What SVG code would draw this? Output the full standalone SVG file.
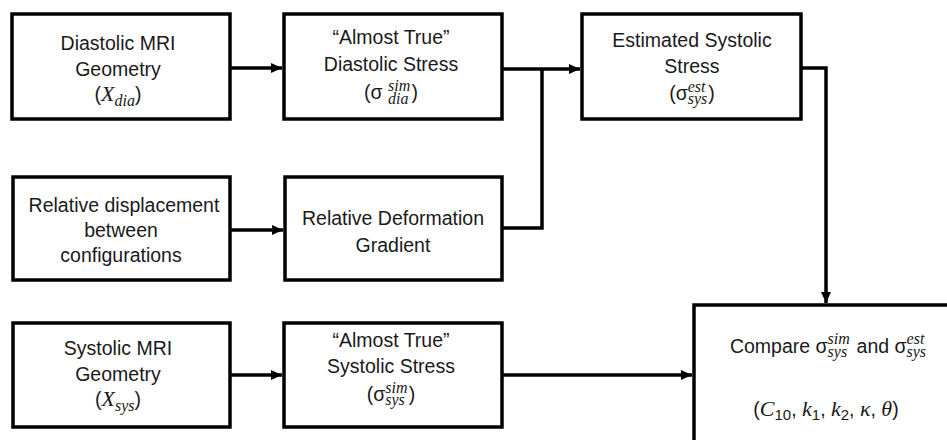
<svg xmlns="http://www.w3.org/2000/svg" width="947" height="440" viewBox="0 0 947 440">
<defs>
<style>
.box{fill:#fff;stroke:#000;stroke-width:3.5}
.t{font-family:"Liberation Sans",Arial,sans-serif;font-size:19.5px;fill:#1a1a1a;text-anchor:middle}
.m{font-family:"Liberation Serif","Times New Roman",serif;font-style:italic}
.big{font-size:22px}
.s{font-size:16px}
.n{font-size:15px}
.c{fill:none;stroke:#000;stroke-width:3.5}
</style>
<marker id="ah" markerUnits="userSpaceOnUse" markerWidth="11" markerHeight="10" refX="11" refY="5" orient="auto">
<path d="M0,0 L11,5 L0,10 z" fill="#000"/>
</marker>
</defs>
<rect width="947" height="440" fill="#fff"/>
<g id="connectors">
<path class="c" d="M230 68 H282" marker-end="url(#ah)"/>
<path class="c" d="M502 69 H580" marker-end="url(#ah)"/>
<path class="c" d="M502 228 H542 V69"/>
<path class="c" d="M230 230 H283" marker-end="url(#ah)"/>
<path class="c" d="M801 68 H826 V303" marker-end="url(#ah)"/>
<path class="c" d="M230 375 H282" marker-end="url(#ah)"/>
<path class="c" d="M502 375 H692" marker-end="url(#ah)"/>
</g>
<g id="diastolic-mri">
<rect class="box" x="12" y="14" width="218" height="105"/>
<text class="t" x="118" y="50">Diastolic MRI</text>
<text class="t" x="118" y="76">Geometry</text>
<text class="t" x="118" y="101">(<tspan class="m big">X</tspan><tspan class="m s" dy="5">dia</tspan><tspan dy="-5">)</tspan></text>
</g>
<g id="almost-true-diastolic">
<rect class="box" x="284" y="14" width="218" height="105"/>
<text class="t" x="391" y="44">“Almost True”</text>
<text class="t" x="391" y="71">Diastolic Stress</text>
<text class="t" x="391" y="99">(σ <tspan class="m s" dy="-8">sim</tspan><tspan class="m s" dx="-22.2" dy="13">dia</tspan><tspan dx="3" dy="-5">)</tspan></text>
</g>
<g id="estimated-systolic">
<rect class="box" x="582" y="14" width="219" height="105"/>
<text class="t" x="692" y="47">Estimated Systolic</text>
<text class="t" x="692" y="73">Stress</text>
<text class="t" x="692" y="100">(σ<tspan class="m s" dy="-8">est</tspan><tspan class="m s" dx="-17.8" dy="12">sys</tspan><tspan dx="1" dy="-4">)</tspan></text>
</g>
<g id="relative-displacement">
<rect class="box" x="13" y="177" width="217" height="103"/>
<text class="t" x="124" y="212">Relative displacement</text>
<text class="t" x="121" y="237">between</text>
<text class="t" x="121" y="262">configurations</text>
</g>
<g id="relative-deformation-gradient">
<rect class="box" x="285" y="177" width="217" height="103"/>
<text class="t" x="393" y="225">Relative Deformation</text>
<text class="t" x="393" y="252">Gradient</text>
</g>
<g id="systolic-mri">
<rect class="box" x="13" y="323" width="217" height="104"/>
<text class="t" x="118" y="355">Systolic MRI</text>
<text class="t" x="118" y="381">Geometry</text>
<text class="t" x="118" y="406">(<tspan class="m big">X</tspan><tspan class="m s" dy="5">sys</tspan><tspan dy="-5">)</tspan></text>
</g>
<g id="almost-true-systolic">
<rect class="box" x="284" y="323" width="218" height="104"/>
<text class="t" x="391" y="347">“Almost True”</text>
<text class="t" x="391" y="373">Systolic Stress</text>
<text class="t" x="391" y="401">(σ<tspan class="m s" dy="-8">sim</tspan><tspan class="m s" dx="-22.2" dy="12">sys</tspan><tspan dx="4" dy="-4">)</tspan></text>
</g>
<g id="compare">
<rect class="box" x="694" y="305" width="262" height="150"/>
<text class="t" x="828" y="353">Compare σ<tspan class="m s" dy="-9">sim</tspan><tspan class="m s" dx="-22.2" dy="13">sys</tspan><tspan dx="4" dy="-4"> and σ</tspan><tspan class="m s" dy="-9">est</tspan><tspan class="m s" dx="-17.8" dy="13">sys</tspan></text>
<text class="t" x="826" y="416">(<tspan class="m big">C</tspan><tspan class="n" dy="4">10</tspan><tspan dy="-4">, </tspan><tspan class="m big">k</tspan><tspan class="n" dy="4">1</tspan><tspan dy="-4">, </tspan><tspan class="m big">k</tspan><tspan class="n" dy="4">2</tspan><tspan dy="-4">, </tspan><tspan class="m big">κ</tspan><tspan>, </tspan><tspan class="m big">θ</tspan>)</text>
</g>
</svg>
